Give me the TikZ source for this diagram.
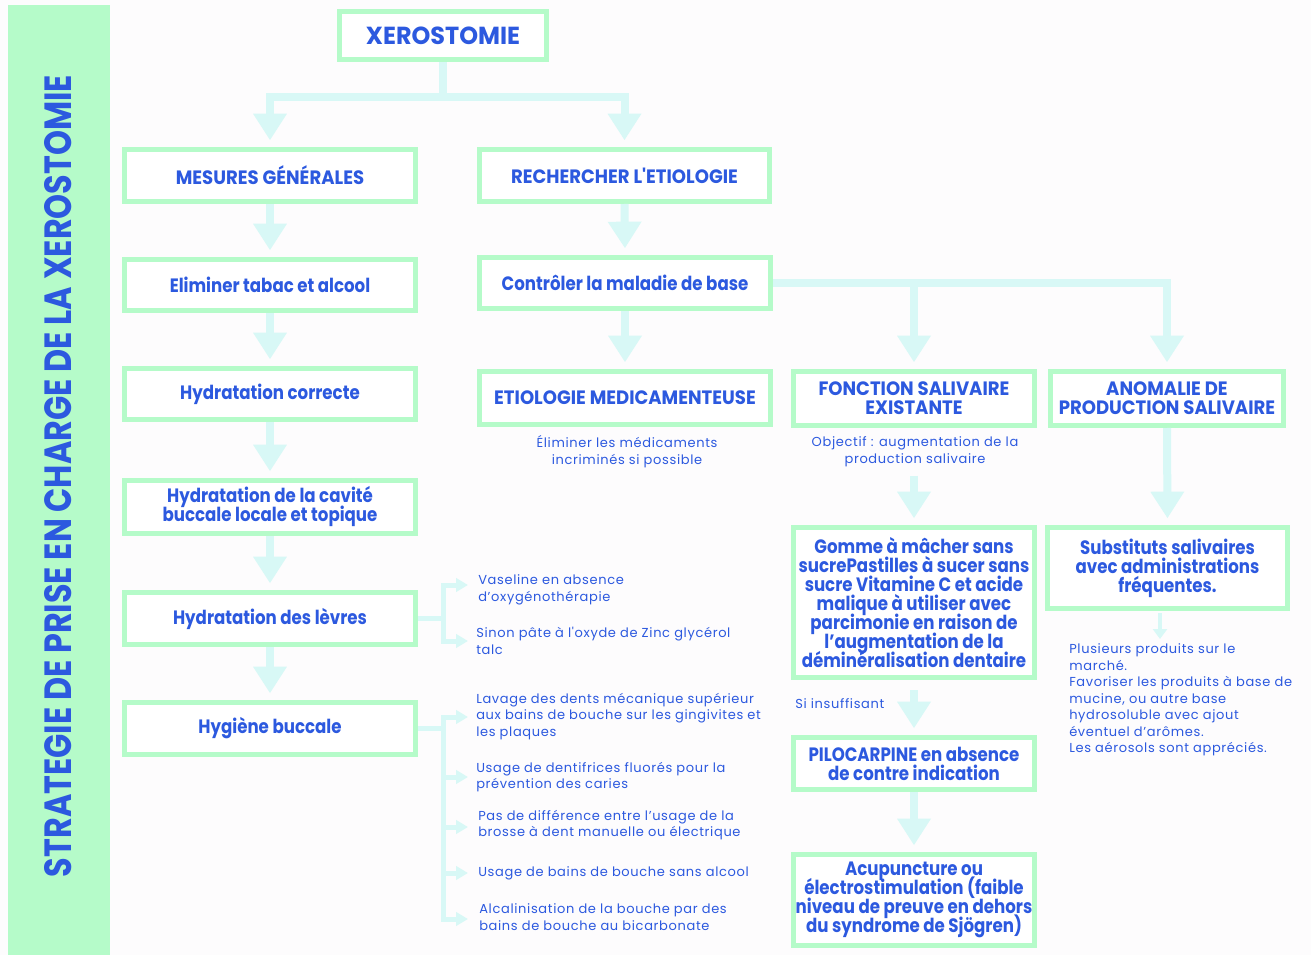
\documentclass[tikz,border=0pt]{standalone}
\usepackage{graphicx}
\usepackage{fontspec}
\setmainfont{Lato}
\newfontfamily\boxf[FakeStretch=0.86]{Poppins}
\newfontfamily\capsf[FakeStretch=0.935]{Poppins}
\newfontfamily\titf[FakeStretch=0.97]{Poppins}
\newfontfamily\smallf[LetterSpace=5]{Poppins}
\newfontfamily\sidef{Poppins}
\newcommand\myboxfont{\boxf\bfseries\fontsize{14.5}{14.25}\selectfont\lineskiplimit=-30pt\relax}
\newcommand\mycapfont{\capsf\bfseries\fontsize{14.5}{14.25}\selectfont\lineskiplimit=-30pt\relax}
\usetikzlibrary{arrows.meta}
\definecolor{mygreen}{HTML}{B5FBC9}
\definecolor{mycyan}{HTML}{D8F8F6}
\definecolor{myblue}{HTML}{2C59DF}
\definecolor{bgc}{HTML}{FDFCFD}
\begin{document}
\begin{tikzpicture}[x=0.75pt,y=-0.75pt,
  box/.style={draw=mygreen, line width=3.75pt, fill=white, inner sep=0pt, align=center, text=myblue,
    font=\myboxfont},
  capbox/.style={box, font=\mycapfont},
  conn/.style={draw=mycyan, line width=6pt, -{Triangle[width=24pt,length=20pt]}, shorten >=5pt},
  br/.style={draw=mycyan, line width=3.75pt, -{Triangle[width=10pt,length=9pt]}},
  thinarr/.style={draw=mycyan, line width=3pt, -{Triangle[width=10.5pt,length=7.5pt]}},
  note/.style={font=\smallf\fontsize{9.75}{12.4}\selectfont, text=myblue, inner sep=0pt, align=left},
]
\useasboundingbox (0,0) rectangle (1311,955);
\fill[bgc] (0,0) rectangle (1311,955);
\fill[mygreen] (8,5) rectangle (110,955);
\node[rotate=90, inner sep=0pt, text=myblue] (side) at (58.5,476)
  {\resizebox{601.5pt}{20.25pt}{\sidef\bfseries STRATEGIE DE PRISE EN CHARGE DE LA XEROSTOMIE}};

% boxes
\node[box, minimum width=155.25pt, minimum height=36pt, font=\titf\bfseries\fontsize{18.5}{20}\selectfont] (xero) at (443,35.5) {XEROSTOMIE};
\node[capbox, minimum width=218.25pt, minimum height=39pt] (mes) at (270,175.5) {MESURES GÉNÉRALES};
\node[capbox, minimum width=217.5pt, minimum height=39pt] (rech) at (624.5,175.5) {RECHERCHER L'ETIOLOGIE};
\node[box, minimum width=218.25pt, minimum height=38.25pt] (elim) at (270,285) {Eliminer tabac et alcool};
\node[box, minimum width=218.25pt, minimum height=38.25pt] (ctrl) at (625,283) {Contrôler la maladie de base};
\node[box, minimum width=218.25pt, minimum height=38.25pt] (hydc) at (270,394) {Hydratation correcte};
\node[box, minimum width=218.25pt, minimum height=39.75pt] (hydcav) at (270,507) {Hydratation de la cavité\\buccale locale et topique};
\node[box, minimum width=218.25pt, minimum height=39pt] (hydl) at (270,618.5) {Hydratation des lèvres};
\node[box, minimum width=218.25pt, minimum height=39pt] (hyg) at (270,728.5) {Hygiène buccale};
\node[capbox, minimum width=218.25pt, minimum height=39.75pt] (etio) at (625,398) {ETIOLOGIE MEDICAMENTEUSE};
\node[capbox, minimum width=180.75pt, minimum height=40.5pt] (fonc) at (914,398.5) {FONCTION SALIVAIRE\\EXISTANTE};
\node[capbox, minimum width=174.75pt, minimum height=40.5pt] (anom) at (1167,398.5) {ANOMALIE DE\\PRODUCTION SALIVAIRE};
\node[box, minimum width=180.75pt, minimum height=112.5pt] (gomme) at (914,602.5)
  {Gomme à mâcher sans\\sucrePastilles à sucer sans\\sucre Vitamine C et acide\\malique à utiliser avec\\parcimonie en raison de\\l’augmentation de la\\déminéralisation dentaire};
\node[box, minimum width=180pt, minimum height=60.75pt] (subst) at (1167.5,568)
  {Substituts salivaires\\avec administrations\\fréquentes.};
\node[box, minimum width=180.75pt, minimum height=39pt] (pilo) at (914,763.5)
  {PILOCARPINE en absence\\de contre indication};
\node[box, minimum width=180.75pt, minimum height=68.25pt] (acu) at (914,900)
  {Acupuncture ou\\électrostimulation (faible\\niveau de preuve en dehors\\du syndrome de Sjögren)};

% main connectors
\draw[conn] (xero.south) -- ++(0,35) -| (mes.north);
\draw[conn] (xero.south) -- ++(0,35) -| (rech.north);
\draw[conn] (mes.south) -- (elim.north);
\draw[conn] (elim.south) -- (hydc.north);
\draw[conn] (hydc.south) -- (hydcav.north);
\draw[conn] (hydcav.south) -- (hydl.north);
\draw[conn] (hydl.south) -- (hyg.north);
\draw[conn] (rech.south) -- (ctrl.north);
\draw[conn] (ctrl.south) -- (etio.north);
\draw[conn] (ctrl.east) -| (fonc.north);
\draw[conn] (ctrl.east) -| (anom.north);
\draw[conn] (anom.south) -- (subst.north);
\coordinate (fs) at (914,476);
\draw[conn] (fs) -- (gomme.north);
\coordinate (gs) at (914,690);
\draw[conn] (gs) -- (pilo.north);
\draw[conn] (pilo.south) -- (acu.north);
\coordinate (ss) at (1160,613);
\coordinate (se) at (1160,639);
\draw[thinarr] (ss) -- (se);

% brackets
\coordinate (va) at (468,585);
\coordinate (vb) at (468,641);
\draw[br] (hydl.east) -- ++(25.5,0) |- (va);
\draw[br] (hydl.east) -- ++(25.5,0) |- (vb);
\coordinate (ha) at (468,717);
\coordinate (hb) at (468,777);
\coordinate (hc) at (468,827);
\coordinate (hd) at (468,873);
\coordinate (he) at (468,919);
\foreach \c in {ha,hb,hc,hd,he}{\draw[br] (hyg.east) -- ++(25.5,0) |- (\c);}

% notes
\node[note, anchor=west] (n1) at (478,590) {Vaseline en absence\\d’oxygénothérapie};
\node[note, anchor=west] (n2) at (476,641) {Sinon pâte à l'oxyde de Zinc glycérol\\talc};
\node[note, anchor=west] (n3) at (476,716.5) {Lavage des dents mécanique supérieur\\aux bains de bouche sur les gingivites et\\les plaques};
\node[note, anchor=west] (n4) at (476,777) {Usage de dentifrices fluorés pour la\\prévention des caries};
\node[note, anchor=west] (n5) at (478,825) {Pas de différence entre l’usage de la\\brosse à dent manuelle ou électrique};
\node[note, anchor=west] (n6) at (478,873) {Usage de bains de bouche sans alcool};
\node[note, anchor=west] (n7) at (479,917) {Alcalinisation de la bouche par des\\bains de bouche au bicarbonate};
\node[note, align=center] (n8) at (627,451.5) {Éliminer les médicaments\\incriminés si possible};
\node[note, align=center] (n9) at (915,451.5) {Objectif : augmentation de la\\production salivaire};
\node[note, anchor=west] (n10) at (795,704) {Si insuffisant};
\node[note, anchor=west] (n11) at (1069,700) {Plusieurs produits sur le\\marché.\\Favoriser les produits à base de\\mucine, ou autre base\\hydrosoluble avec ajout\\éventuel d’arômes.\\Les aérosols sont appréciés.};
\end{tikzpicture}
\end{document}
